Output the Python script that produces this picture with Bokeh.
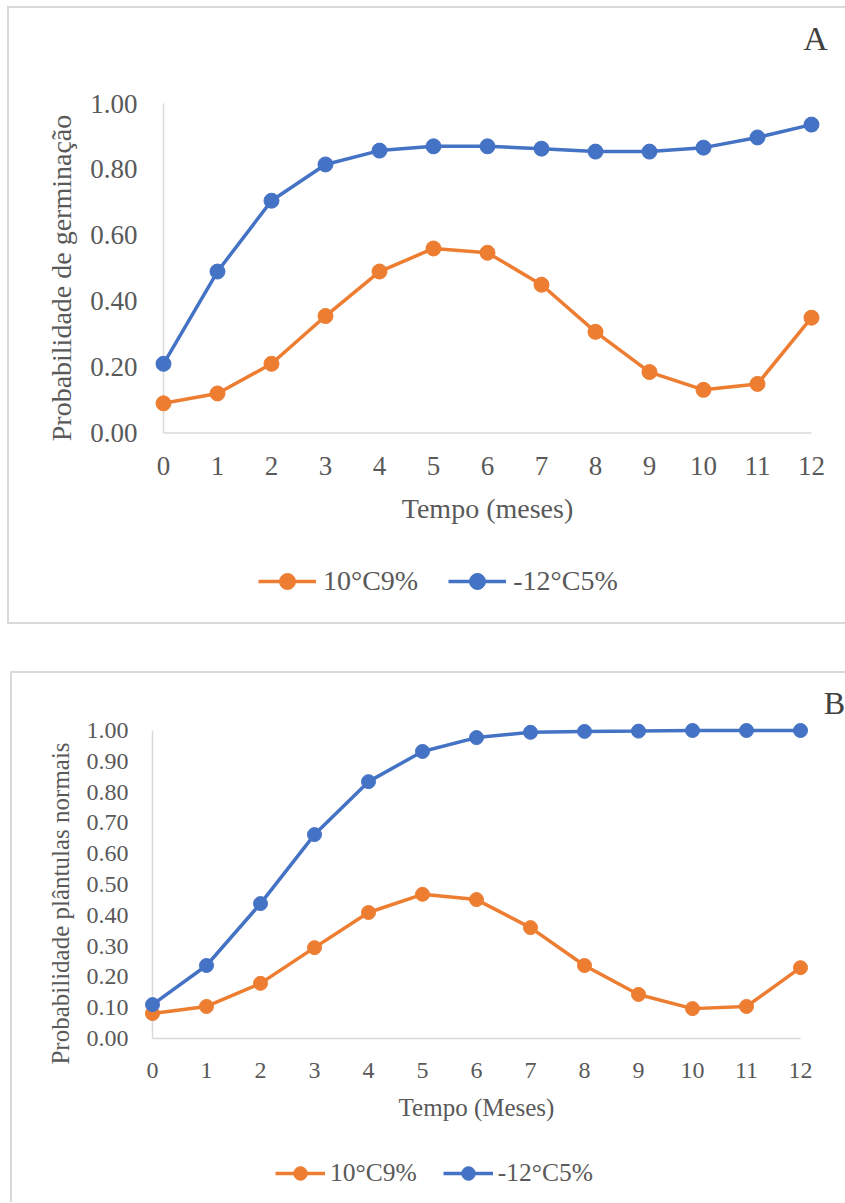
from bokeh.plotting import figure
from bokeh.models import Range1d, FixedTicker, NumeralTickFormatter, Legend, LegendItem, Label
from bokeh.layouts import column
from bokeh.embed import file_html
from bokeh.resources import INLINE

months = list(range(13))
series_names = ["10°C9%", "-12°C5%"]
germ_10C9 = [0.09, 0.12, 0.21, 0.355, 0.49, 0.56, 0.547, 0.45, 0.307, 0.185, 0.131, 0.149, 0.35]
germ_m12C5 = [0.21, 0.49, 0.705, 0.815, 0.857, 0.87, 0.87, 0.863, 0.854, 0.854, 0.866, 0.897, 0.936]
plant_10C9 = [0.081, 0.104, 0.179, 0.295, 0.409, 0.468, 0.451, 0.36, 0.237, 0.143, 0.097, 0.104, 0.23]
plant_m12C5 = [0.11, 0.237, 0.438, 0.662, 0.834, 0.932, 0.977, 0.994, 0.997, 0.998, 1.0, 1.0, 1.0]
ticks_A = [0, 0.2, 0.4, 0.6, 0.8, 1.0]
ticks_B = [0, 0.1, 0.2, 0.3, 0.4, 0.5, 0.6, 0.7, 0.8, 0.9, 1.0]

ORANGE = "#ED7D31"
BLUE = "#4472C4"
TXT = "#595959"
FONT = "Liberation Serif"
AXC = "#d9d9d9"


def make_panel(cfg, ys, yticks):
    # the frame fills the whole boxed chart area; the axes sit at the origin like Excel's
    w, h = cfg["w"], cfg["h"]
    x0px, x12px, y0px, y1px = cfg["anchors"]  # pixel positions of x=0, x=12, y=0, y=1 inside the box
    kx = (x12px - x0px) / (months[-1] - months[0])
    ky = (y0px - y1px) / (yticks[-1] - yticks[0])
    xr = Range1d(months[0] - x0px / kx, months[-1] + (w - x12px) / kx)
    yr = Range1d(yticks[0] - (h - y0px) / ky, yticks[-1] + y1px / ky)

    p = figure(width=w, height=h, output_backend="svg", toolbar_location=None,
               x_range=xr, y_range=yr, min_border=0,
               styles=cfg["styles"], margin=cfg["margin"])
    p.title = None
    p.border_fill_color = None
    p.background_fill_color = None
    p.outline_line_color = None
    p.xgrid.visible = False
    p.ygrid.visible = False

    p.segment(x0=[months[0], months[0]], y0=[yticks[0], yticks[0]],
              x1=[months[0], months[-1]], y1=[yticks[-1], yticks[0]],
              line_color=AXC, line_width=1.5)

    renderers = []
    for vals, col in zip(ys, [ORANGE, BLUE]):
        l = p.line(months, vals, line_color=col, line_width=3.5)
        s = p.scatter(months, vals, size=cfg["msize"], fill_color=col, line_color=col)
        renderers.append((l, s))

    for ax in (p.xaxis[0], p.yaxis[0]):
        ax.fixed_location = 0
        ax.axis_line_color = None
        ax.major_tick_line_color = None
        ax.minor_tick_line_color = None
        ax.major_tick_out = 0
        ax.major_tick_in = 0
        ax.minor_tick_out = 0
        ax.minor_tick_in = 0
        ax.major_label_text_font = FONT
        ax.major_label_text_color = TXT
        ax.major_label_text_font_size = cfg["tick_fs"]
        ax.axis_label_text_font = FONT
        ax.axis_label_text_color = TXT
        ax.axis_label_text_font_size = cfg["lab_fs"]
        ax.axis_label_text_font_style = "normal"

    p.xaxis[0].ticker = FixedTicker(ticks=months)
    p.yaxis[0].ticker = FixedTicker(ticks=yticks)
    p.xaxis[0].bounds = (months[0], months[-1])
    p.yaxis[0].bounds = (yticks[0] - cfg["ylab_shift"], yticks[-1])
    p.yaxis[0].formatter = NumeralTickFormatter(format="0.00")
    p.xaxis[0].axis_label = cfg["xlabel"]
    p.yaxis[0].axis_label = cfg["ylabel"]
    p.yaxis[0].major_label_standoff = cfg["ts_y"]
    p.xaxis[0].major_label_standoff = cfg["ts_x"]
    p.yaxis[0].axis_label_standoff = cfg["ls_y"]
    p.xaxis[0].axis_label_standoff = cfg["ls_x"]

    items = [LegendItem(label=n, renderers=list(r)) for n, r in zip(series_names, renderers)]
    leg = Legend(items=items, location=cfg["leg_loc"], orientation="horizontal",
                 glyph_width=cfg["gw"], glyph_height=cfg["gh"], label_standoff=cfg["lstand"],
                 spacing=cfg["spacing"], label_text_font=FONT, label_text_color=TXT,
                 label_text_font_size=cfg["leg_fs"], border_line_color=None,
                 background_fill_alpha=0, padding=4, margin=0)
    p.add_layout(leg)

    lx = months[-1] + (cfg["letter_px"][0] - x12px) / kx
    ly = yticks[-1] + (y1px - cfg["letter_px"][1]) / ky
    p.add_layout(Label(x=lx, y=ly, text=cfg["letter"], text_font=FONT,
                       text_color="#404040", text_font_size=cfg["t_fs"],
                       text_align="center", text_baseline="middle"))
    return p


# box A occupies page x 7..845, y 6..624 ; box B x 10..845, y 671..1202
cfgA = dict(w=838, h=618, margin=(6, 0, 0, 7),
            anchors=(163 - 7, 811 - 7, 432.5 - 6, 103 - 6),
            styles={"box-shadow": "inset 2px 0 0 #d9d9d9, inset 0 2px 0 #d9d9d9, inset 0 -2px 0 #d9d9d9"},
            msize=15, tick_fs="27px", lab_fs="28px", leg_fs="28px",
            xlabel="Tempo (meses)", ylabel="Probabilidade de germinação", ylab_shift=0.06,
            ts_y=26, ts_x=24, ls_y=10, ls_x=14,
            leg_loc=(251, 23), gw=58, gh=40, lstand=7, spacing=30,
            letter="A", letter_px=(815 - 7, 38 - 6), t_fs="34px")
cfgB = dict(w=835, h=531, margin=(47, 0, 0, 10),
            anchors=(152 - 10, 800 - 10, 1038 - 671, 730 - 671),
            styles={"box-shadow": "inset 2px 0 0 #d9d9d9, inset 0 2px 0 #d9d9d9"},
            msize=14, tick_fs="24px", lab_fs="25px", leg_fs="25.5px",
            xlabel="Tempo (Meses)", ylabel="Probabilidade plântulas normais", ylab_shift=0.124,
            ts_y=24, ts_x=24, ls_y=10, ls_x=13,
            leg_loc=(265, 12), gw=50, gh=34, lstand=5, spacing=26,
            letter="B", letter_px=(834 - 10, 702.5 - 671), t_fs="32px")

pA = make_panel(cfgA, [germ_10C9, germ_m12C5], ticks_A)
pB = make_panel(cfgB, [plant_10C9, plant_m12C5], ticks_B)

layout = column(pA, pB, spacing=0)
open("out.html", "w").write(file_html(layout, INLINE))
